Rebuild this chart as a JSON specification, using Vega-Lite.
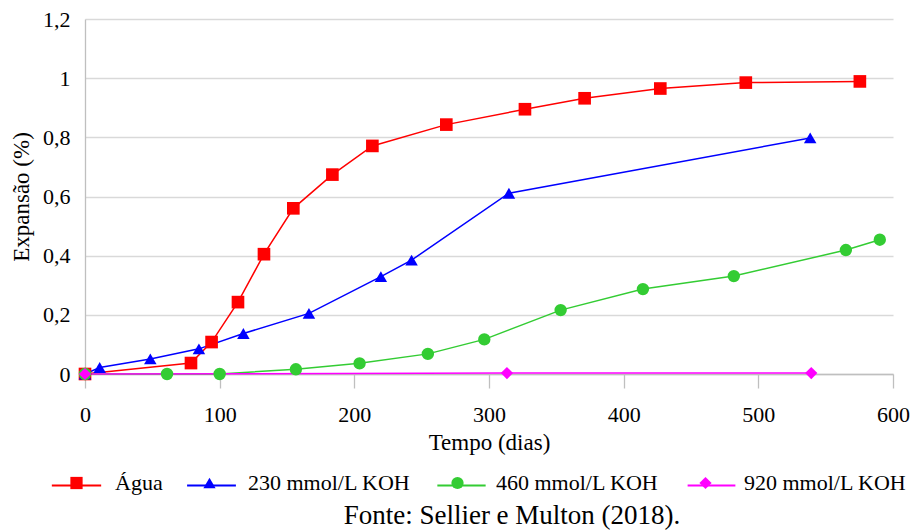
{
  "$schema": "https://vega.github.io/schema/vega-lite/v6.json",
  "width": 808,
  "height": 355,
  "autosize": {"type": "none"},
  "padding": {"left": 85, "top": 19, "right": 20, "bottom": 158},
  "background": "white",
  "config": {"view": {"stroke": null}, "font": "Liberation Serif"},
  "title": {"text": "Fonte: Sellier e Multon (2018).", "orient": "bottom", "anchor": "middle", "frame": "group", "fontSize": 27, "fontWeight": "normal", "font": "Liberation Serif", "color": "black", "offset": 6, "dx": 23},
  "data": {"values": [
    {"s": "Água", "t": 0, "e": 0},
    {"s": "Água", "t": 78.7, "e": 0.037},
    {"s": "Água", "t": 94, "e": 0.108},
    {"s": "Água", "t": 113.6, "e": 0.243},
    {"s": "Água", "t": 132.9, "e": 0.405},
    {"s": "Água", "t": 154.7, "e": 0.56},
    {"s": "Água", "t": 183.7, "e": 0.674},
    {"s": "Água", "t": 213.4, "e": 0.771},
    {"s": "Água", "t": 268.3, "e": 0.843},
    {"s": "Água", "t": 326.7, "e": 0.895},
    {"s": "Água", "t": 371, "e": 0.932},
    {"s": "Água", "t": 427.2, "e": 0.965},
    {"s": "Água", "t": 490.7, "e": 0.985},
    {"s": "Água", "t": 575.4, "e": 0.989},
    {"s": "230 mmol/L KOH", "t": 0, "e": 0},
    {"s": "230 mmol/L KOH", "t": 10.9, "e": 0.022},
    {"s": "230 mmol/L KOH", "t": 48.5, "e": 0.051},
    {"s": "230 mmol/L KOH", "t": 84.6, "e": 0.085},
    {"s": "230 mmol/L KOH", "t": 117.6, "e": 0.137},
    {"s": "230 mmol/L KOH", "t": 166.3, "e": 0.205},
    {"s": "230 mmol/L KOH", "t": 219.7, "e": 0.329},
    {"s": "230 mmol/L KOH", "t": 242.5, "e": 0.385},
    {"s": "230 mmol/L KOH", "t": 314.8, "e": 0.611},
    {"s": "230 mmol/L KOH", "t": 538.5, "e": 0.798},
    {"s": "460 mmol/L KOH", "t": 0, "e": 0},
    {"s": "460 mmol/L KOH", "t": 60.9, "e": 0},
    {"s": "460 mmol/L KOH", "t": 100, "e": 0},
    {"s": "460 mmol/L KOH", "t": 156.6, "e": 0.016},
    {"s": "460 mmol/L KOH", "t": 203.9, "e": 0.036},
    {"s": "460 mmol/L KOH", "t": 254.6, "e": 0.068},
    {"s": "460 mmol/L KOH", "t": 296.5, "e": 0.117},
    {"s": "460 mmol/L KOH", "t": 353.2, "e": 0.216},
    {"s": "460 mmol/L KOH", "t": 414.3, "e": 0.287},
    {"s": "460 mmol/L KOH", "t": 481.8, "e": 0.331},
    {"s": "460 mmol/L KOH", "t": 565, "e": 0.419},
    {"s": "460 mmol/L KOH", "t": 590.2, "e": 0.454},
    {"s": "920 mmol/L KOH", "t": 0, "e": 0},
    {"s": "920 mmol/L KOH", "t": 313.3, "e": 0.003},
    {"s": "920 mmol/L KOH", "t": 539.3, "e": 0.003}
  ]},
  "encoding": {
    "x": {"field": "t", "type": "quantitative", "scale": {"domain": [0, 600], "nice": false},
      "axis": {"values": [0, 100, 200, 300, 400, 500, 600], "labelFlush": false, "grid": false, "domainColor": "#bfbfbf", "domainWidth": 1.3, "tickColor": "#bfbfbf", "tickWidth": 1.3, "tickSize": 14, "labelPadding": 16, "labelFontSize": 22, "labelColor": "black", "labelFont": "Liberation Serif", "title": "Tempo (dias)", "titleFontSize": 23, "titleFontWeight": "normal", "titleColor": "black", "titleFont": "Liberation Serif", "titlePadding": 6}},
    "y": {"field": "e", "type": "quantitative", "scale": {"domain": [0, 1.2], "nice": false},
      "axis": {"values": [0, 0.2, 0.4, 0.6, 0.8, 1, 1.2], "labelExpr": "replace(format(datum.value, '~g'), '.', ',')", "grid": true, "gridColor": "#d9d9d9", "gridWidth": 1.3, "ticks": false, "domainColor": "#bfbfbf", "domainWidth": 1.3, "labelPadding": 15, "labelFontSize": 22, "labelColor": "black", "labelFont": "Liberation Serif", "title": "Expansão (%)", "titleFontSize": 23, "titleFontWeight": "normal", "titleColor": "black", "titleFont": "Liberation Serif", "titlePadding": 9}}
  },
  "layer": [
    {
      "mark": {"type": "line", "strokeWidth": 1.5},
      "encoding": {
        "color": {"field": "s", "type": "nominal", "scale": {"domain": ["Água", "230 mmol/L KOH", "460 mmol/L KOH", "920 mmol/L KOH"], "range": ["#ff0000", "#0000ff", "#33cc33", "#ff00ff"]},
          "legend": {"orient": "none", "legendX": -35, "legendY": 455.5, "direction": "horizontal", "title": null, "symbolType": "M-3.9,0H3.9", "symbolSize": 150, "symbolOffset": 15.5, "symbolStrokeWidth": 2, "labelFontSize": 22, "labelFont": "Liberation Serif", "labelColor": "black", "labelOpacity": 0, "labelLimit": 0, "labelOffset": 27.5, "columnPadding": 20}},
        "order": {"field": "t", "type": "quantitative"}
      }
    },
    {
      "mark": {"type": "point", "filled": true, "opacity": 1},
      "encoding": {
        "fill": {"field": "s", "type": "nominal", "sort": null, "scale": {"domain": {"unionWith": ["Água", "230 mmol/L KOH", "460 mmol/L KOH", "920 mmol/L KOH"]}, "range": ["#ff0000", "#0000ff", "#33cc33", "#ff00ff"]},
          "legend": {"orient": "none", "legendX": -35, "legendY": 453, "direction": "horizontal", "title": null, "symbolSize": 150, "symbolOffset": 15.5, "symbolStrokeWidth": 0, "labelFontSize": 22, "labelFont": "Liberation Serif", "labelColor": "black", "labelLimit": 0, "labelOffset": 27.5, "columnPadding": 20}},
        "shape": {"field": "s", "type": "nominal", "sort": null, "scale": {"domain": {"unionWith": ["Água", "230 mmol/L KOH", "460 mmol/L KOH", "920 mmol/L KOH"]}, "range": ["square", "triangle-up", "circle", "diamond"]},
          "legend": {"orient": "none", "legendX": -35, "legendY": 453, "direction": "horizontal", "title": null, "symbolSize": 150, "symbolOffset": 15.5, "symbolStrokeWidth": 0, "labelFontSize": 22, "labelFont": "Liberation Serif", "labelColor": "black", "labelLimit": 0, "labelOffset": 27.5, "columnPadding": 20}},
        "size": {"field": "s", "type": "nominal", "scale": {"domain": ["Água", "230 mmol/L KOH", "460 mmol/L KOH", "920 mmol/L KOH"], "range": [160, 150, 170, 90]}, "legend": null}
      }
    }
  ]
}
